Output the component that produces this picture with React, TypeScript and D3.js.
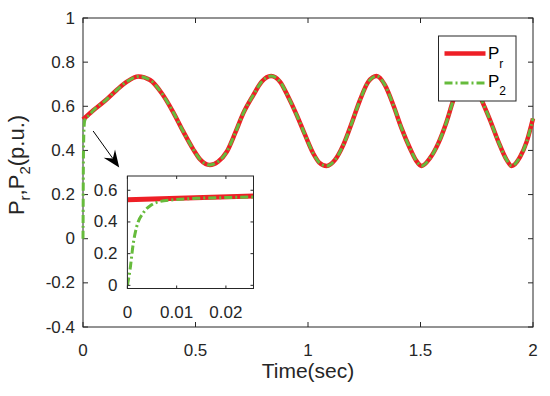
import * as d3 from "d3";

// main trace (P_r and P_2 coincide after the start-up transient)
const mainT = [
  0, 0.046, 0.098, 0.15, 0.194, 0.246, 0.298, 0.35, 0.4, 0.446, 0.49, 0.52, 0.564, 0.6, 0.639, 0.676,
  0.712, 0.757, 0.794, 0.836, 0.876, 0.912, 0.95, 0.987, 1.024, 1.05, 1.083, 1.12, 1.157, 1.194, 1.231,
  1.268, 1.305, 1.342, 1.379, 1.416, 1.453, 1.48, 1.505, 1.542, 1.579, 1.616, 1.646, 1.68, 1.709, 1.74,
  1.772, 1.809, 1.846, 1.883, 1.905, 1.942, 1.972, 2.0,
];
const mainPr = [
  0.54, 0.582, 0.625, 0.674, 0.711, 0.735, 0.719, 0.659, 0.575, 0.485, 0.405, 0.36, 0.334, 0.349, 0.394, 0.478,
  0.568, 0.651, 0.711, 0.737, 0.711, 0.643, 0.56, 0.47, 0.385, 0.345, 0.33, 0.357, 0.425, 0.523, 0.628,
  0.711, 0.737, 0.696, 0.606, 0.5, 0.41, 0.355, 0.33, 0.365, 0.432, 0.53, 0.628, 0.712, 0.737, 0.708,
  0.628, 0.538, 0.44, 0.357, 0.33, 0.37, 0.44, 0.545,
];

// start-up transient of P_2 (seen in the inset)
const transT = [0, 0.00053, 0.0012, 0.0019, 0.0032, 0.0049, 0.0066, 0.0093, 0.014, 0.02, 0.0256];
const transP2 = [0, 0.098, 0.266, 0.372, 0.456, 0.508, 0.529, 0.54, 0.549, 0.554, 0.558];

const xTicks = [0, 0.5, 1, 1.5, 2];
const yTicks = [-0.4, -0.2, 0, 0.2, 0.4, 0.6, 0.8, 1];
const insetXTicks = [0, 0.01, 0.02];
const insetYTicks = [0, 0.2, 0.4, 0.6];

const RED = "#ee1f26";
const GREEN = "#66bb3c";
const AX = "#262626";
const FONT = "'Liberation Sans', Arial, Helvetica, sans-serif";
const DASH = "8,3,2,3";

type Pt = [number, number];

const prPts: Pt[] = mainT.map((t, i) => [t, mainPr[i]]);
const p2Pts: Pt[] = transT
  .map((t, i) => [t, transP2[i]] as Pt)
  .concat(mainT.slice(1).map((t, i) => [t, mainPr[i + 1]] as Pt));

const fmt = (v: number) => (Math.abs(v) < 1e-9 ? "0" : String(+v.toFixed(2)));

function Box({
  x,
  y,
  xt,
  yt,
  tick,
}: {
  x: d3.ScaleLinear<number, number>;
  y: d3.ScaleLinear<number, number>;
  xt: number[];
  yt: number[];
  tick: number;
}) {
  const [x0, x1] = x.range();
  const [y0, y1] = y.range();
  return (
    <g stroke={AX} strokeWidth={1} fill="none">
      <rect x={x0} y={y1} width={x1 - x0} height={y0 - y1} />
      {xt.map((t) => (
        <g key={"x" + t}>
          <line x1={x(t)} x2={x(t)} y1={y0} y2={y0 - tick} />
          <line x1={x(t)} x2={x(t)} y1={y1} y2={y1 + tick} />
        </g>
      ))}
      {yt.map((t) => (
        <g key={"y" + t}>
          <line x1={x0} x2={x0 + tick} y1={y(t)} y2={y(t)} />
          <line x1={x1} x2={x1 - tick} y1={y(t)} y2={y(t)} />
        </g>
      ))}
    </g>
  );
}

export default function App() {
  const W = 550;
  const H = 396;

  const x = d3.scaleLinear().domain([0, 2]).range([83, 533]);
  const y = d3.scaleLinear().domain([-0.4, 1]).range([327, 18]);

  const ix = d3.scaleLinear().domain([0, 0.0256]).range([127.4, 253.5]);
  const iy = d3.scaleLinear().domain([-0.02, 0.69]).range([288.5, 176]);

  const line = d3
    .line<Pt>()
    .x((d) => x(d[0]))
    .y((d) => y(d[1]))
    .curve(d3.curveMonotoneX);
  const iline = d3
    .line<Pt>()
    .x((d) => ix(d[0]))
    .y((d) => iy(d[1]))
    .curve(d3.curveMonotoneX);

  // annotation arrow (data coords of main axes)
  const a0: Pt = [x(0.045), y(0.488)];
  const a1: Pt = [x(0.161), y(0.323)];
  const dx = a1[0] - a0[0];
  const dy = a1[1] - a0[1];
  const len = Math.hypot(dx, dy);
  const ux = dx / len;
  const uy = dy / len;
  const nx = -uy;
  const ny = ux;
  const hl = 17;
  const hw = 7;
  const notch = 11;
  const head = [
    a1,
    [a1[0] - ux * hl + nx * hw, a1[1] - uy * hl + ny * hw],
    [a1[0] - ux * notch, a1[1] - uy * notch],
    [a1[0] - ux * hl - nx * hw, a1[1] - uy * hl - ny * hw],
  ]
    .map((p) => p.join(","))
    .join(" ");

  // legend
  const lg = { x: 438.5, y: 36, w: 77.5, h: 65 };

  return (
    <svg
      width={W}
      height={H}
      viewBox={`0 0 ${W} ${H}`}
      style={{ position: "absolute", left: 0, top: 0, background: "#fff" }}
      fontFamily={FONT}
    >
      <defs>
        <clipPath id="inset-clip">
          <rect x={ix.range()[0]} y={iy.range()[1]} width={ix.range()[1] - ix.range()[0]} height={iy.range()[0] - iy.range()[1]} />
        </clipPath>
      </defs>
      <rect width={W} height={H} fill="#fff" />

      {/* main axes */}
      <Box x={x} y={y} xt={xTicks} yt={yTicks} tick={5} />
      <path d={line(prPts) || ""} fill="none" stroke={RED} strokeWidth={4.5} strokeLinejoin="round" />
      <path d={line(p2Pts) || ""} fill="none" stroke={GREEN} strokeWidth={3} strokeDasharray={DASH} />

      <g fontSize={17} fill="#262626">
        {yTicks.map((t) => (
          <text key={t} x={75} y={y(t)} textAnchor="end" dominantBaseline="central">
            {fmt(t)}
          </text>
        ))}
        {xTicks.map((t) => (
          <text key={t} x={x(t)} y={355.5} textAnchor="middle">
            {fmt(t)}
          </text>
        ))}
      </g>
      <text x={(x.range()[0] + x.range()[1]) / 2} y={378} textAnchor="middle" fontSize={21} fill="#262626">
        Time(sec)
      </text>
      <text transform="translate(24,165) rotate(-90)" textAnchor="middle" fontSize={22} fill="#262626">
        P<tspan fontSize={15} dy={6}>r</tspan>
        <tspan dy={-6}>,P</tspan>
        <tspan fontSize={15} dy={6}>2</tspan>
        <tspan dy={-6}>(p.u.)</tspan>
      </text>

      {/* arrow */}
      <line x1={a0[0]} y1={a0[1]} x2={a1[0] - ux * notch} y2={a1[1] - uy * notch} stroke="#000" strokeWidth={1} />
      <polygon points={head} fill="#000" />

      {/* inset */}
      <rect x={ix.range()[0]} y={iy.range()[1]} width={ix.range()[1] - ix.range()[0]} height={iy.range()[0] - iy.range()[1]} fill="#fff" />
      <g clipPath="url(#inset-clip)">
        <path d={iline(prPts) || ""} fill="none" stroke={RED} strokeWidth={5} />
        <path d={iline(p2Pts) || ""} fill="none" stroke={GREEN} strokeWidth={3} strokeDasharray={DASH} />
      </g>
      <Box x={ix} y={iy} xt={insetXTicks} yt={insetYTicks} tick={3} />
      <g fontSize={17} fill="#262626">
        {insetYTicks.map((t) => (
          <text key={t} x={117.5} y={iy(t)} textAnchor="end" dominantBaseline="central">
            {fmt(t)}
          </text>
        ))}
        {insetXTicks.map((t) => (
          <text key={t} x={ix(t)} y={318} textAnchor="middle">
            {fmt(t)}
          </text>
        ))}
      </g>

      {/* legend */}
      <rect x={lg.x} y={lg.y} width={lg.w} height={lg.h} fill="#fff" stroke={AX} strokeWidth={1} />
      <line x1={444.5} x2={485.5} y1={53.5} y2={53.5} stroke={RED} strokeWidth={4.5} />
      <line x1={444.5} x2={485.5} y1={83} y2={83} stroke={GREEN} strokeWidth={3} strokeDasharray={DASH} />
      <g fontSize={17} fill="#000">
        <text x={488} y={59}>
          P<tspan fontSize={12} dy={8.5}>r</tspan>
        </text>
        <text x={488} y={86.5}>
          P<tspan fontSize={12} dy={8.5}>2</tspan>
        </text>
      </g>
    </svg>
  );
}
